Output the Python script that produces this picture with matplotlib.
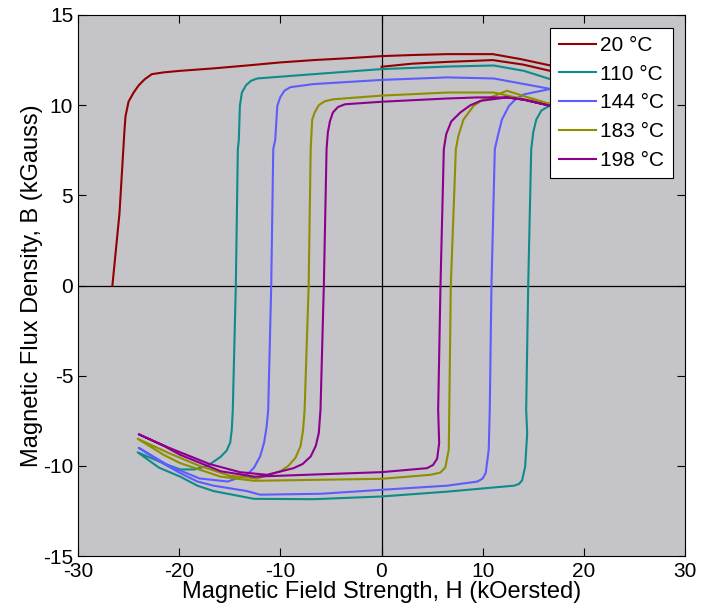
import matplotlib
matplotlib.use("Agg")
import matplotlib.pyplot as plt

plt.rcParams['font.family'] = ['Liberation Sans', 'DejaVu Sans']
plt.rcParams['axes.unicode_minus'] = False

labels = ['20 °C', '110 °C', '144 °C', '183 °C', '198 °C']
colors = ['#930000', '#0f8b8b', '#5c5cff', '#8e8e00', '#8c008c']

# 20 C: only the upper branch is measured
h20 = [0, 3, 6.5, 11, 14, 16.7, 17.5, 16.7, 13.7, 11, 6.5, 3, 0, -3.4, -6.7, -10, -13.3,
       -16.6, -20, -21.5, -22.7, -23.4, -24.0, -24.5, -25.0, -25.3, -25.4, -25.9, -26.6]
b20 = [12.13, 12.3, 12.4, 12.5, 12.25, 11.9, 11.7, 12.2, 12.56, 12.83, 12.83, 12.78, 12.72,
       12.6, 12.5, 12.37, 12.2, 12.04, 11.9, 11.82, 11.72, 11.44, 11.1, 10.7, 10.2, 9.4, 8.67,
       4.0, 0.0]

h110 = [17.5, 16.7, 14.1, 11.1, 6.5, 0, -6.7, -12.3, -12.9, -13.4, -13.8, -14.0, -14.1, -14.2,
        -14.4, -14.7, -14.8, -14.95, -15.3, -15.9, -17.2, -18.5, -19.9, -21.6, -24.1,
        -22, -19.9, -18.2, -16.6, -12.6, -6.7, 0, 6.5, 13.1, 13.6, 13.9, 14.2, 14.4, 14.3,
        14.5, 14.8, 15.0, 15.3, 15.8, 16.7, 17.5]
b110 = [11.2, 11.44, 11.9, 12.2, 12.14, 12.0, 11.72, 11.48, 11.35, 11.1, 10.7, 9.96, 8.1, 7.56,
        0, -6.9, -8.0, -8.7, -9.15, -9.5, -10.0, -10.2, -10.2, -9.85, -9.25,
        -10.1, -10.6, -11.1, -11.4, -11.83, -11.85, -11.7, -11.43, -11.1, -11.0, -10.8, -10.04,
        -8.2, -6.9, 0, 7.56, 8.5, 9.2, 9.7, 10.0, 10.3]

h144 = [17.5, 16.7, 14.1, 11.1, 6.5, 0, -6.7, -9.0, -9.6, -10.0, -10.3, -10.5, -10.7, -10.9,
        -11.2, -11.35, -11.6, -12.0, -12.6, -13.3, -15.2, -18, -21, -24,
        -21.5, -19.9, -18.2, -16.6, -13.3, -12, -6, 0, 6.5, 9.5, 10.0, 10.3, 10.6, 10.7, 10.87,
        11.2, 11.5, 11.9, 12.6, 13.3, 14.1, 16.7, 17.5]
b144 = [10.8, 10.9, 11.17, 11.48, 11.54, 11.4, 11.17, 11.0, 10.8, 10.45, 9.96, 8.1, 7.56, 0,
        -6.9, -7.8, -8.7, -9.48, -10.1, -10.5, -10.87, -10.7, -10.0, -9.0,
        -9.9, -10.4, -10.87, -11.1, -11.4, -11.6, -11.55, -11.33, -11.1, -10.87, -10.7, -10.4,
        -9.1, -6.9, 0, 7.56, 8.3, 9.2, 9.96, 10.35, 10.6, 10.9, 10.9]

h183 = [17.5, 16.7, 14.1, 11.1, 6.5, 0, -4.7, -5.6, -6.2, -6.6, -6.85, -7.0, -7.2, -7.6,
        -7.75, -8.0, -8.5, -9.2, -10, -12.3, -15, -18, -21, -24.1,
        -21.5, -19.9, -15.9, -12.6, 0, 4.8, 5.8, 6.3, 6.65, 6.7, 6.85, 7.35, 7.6, 8.1, 9.1,
        10.0, 11.1, 12.4, 14.1, 16.7, 17.5]
b183 = [10.0, 10.06, 10.33, 10.7, 10.7, 10.53, 10.33, 10.22, 10.0, 9.6, 9.2, 7.56, 0, -6.9,
        -8.0, -8.9, -9.55, -10.0, -10.3, -10.7, -10.55, -10.0, -9.3, -8.5,
        -9.4, -9.85, -10.6, -10.83, -10.72, -10.5, -10.38, -10.1, -9.1, -6.9, 0, 7.56, 8.3,
        9.2, 9.96, 10.3, 10.5, 10.8, 10.5, 10.06, 9.95]

h198 = [17.5, 16.7, 14.1, 12.4, 9.5, 6.5, 0, -3.6, -4.3, -4.8, -5.1, -5.3, -5.43, -5.7, -6.03,
        -6.2, -6.5, -7.0, -7.8, -8.7, -11.3, -14, -17, -21, -24,
        -21.5, -19.9, -15.9, -12.6, 0, 4.5, 5.1, 5.5, 5.7, 5.6, 5.83, 6.16, 6.4, 6.9, 7.8, 8.8,
        9.8, 12.4, 14.1, 16.7, 17.5]
b198 = [9.9, 9.96, 10.3, 10.43, 10.43, 10.37, 10.19, 10.05, 9.9, 9.6, 9.1, 8.5, 7.56, 0, -6.9,
        -8.19, -8.9, -9.48, -9.9, -10.13, -10.5, -10.35, -9.9, -9.0, -8.25,
        -8.9, -9.39, -10.3, -10.6, -10.35, -10.13, -9.95, -9.6, -8.74, -6.9, 0, 7.56, 8.4, 9.1,
        9.6, 10.0, 10.24, 10.43, 10.3, 9.96, 9.9]

curves = [(h20, b20), (h110, b110), (h144, b144), (h183, b183), (h198, b198)]

fig = plt.figure(figsize=(7.02, 6.09), dpi=100)
ax = fig.add_axes([78 / 702, 1 - 556 / 609, 607 / 702, 541 / 609])
ax.set_facecolor('#c5c4c8')

for (h, b), c, lab in zip(curves, colors, labels):
    ax.plot(h, b, color=c, lw=1.5, label=lab)

ax.axhline(0, color='black', lw=0.9, zorder=1)
ax.axvline(0, color='black', lw=0.9, zorder=1)

ax.set_xlim(-30, 30)
ax.set_ylim(-15, 15)
ax.set_xticks(range(-30, 31, 10))
ax.set_yticks(range(-15, 16, 5))
ax.tick_params(direction='in', top=True, right=True, length=6, labelsize=15)
ax.tick_params(axis='x', pad=4.5)
ax.set_xlabel('Magnetic Field Strength, H (kOersted)', fontsize=17, labelpad=0)
ax.set_ylabel('Magnetic Flux Density, B (kGauss)', fontsize=17, labelpad=0)

leg = ax.legend(loc='upper right', fontsize=15, fancybox=False, framealpha=1,
                edgecolor='black', handlelength=1.8, handletextpad=0.2,
                labelspacing=0.47, borderpad=0.4, borderaxespad=0.6)
leg.get_frame().set_linewidth(0.8)

fig.savefig('out.png', dpi=100, facecolor='white')
